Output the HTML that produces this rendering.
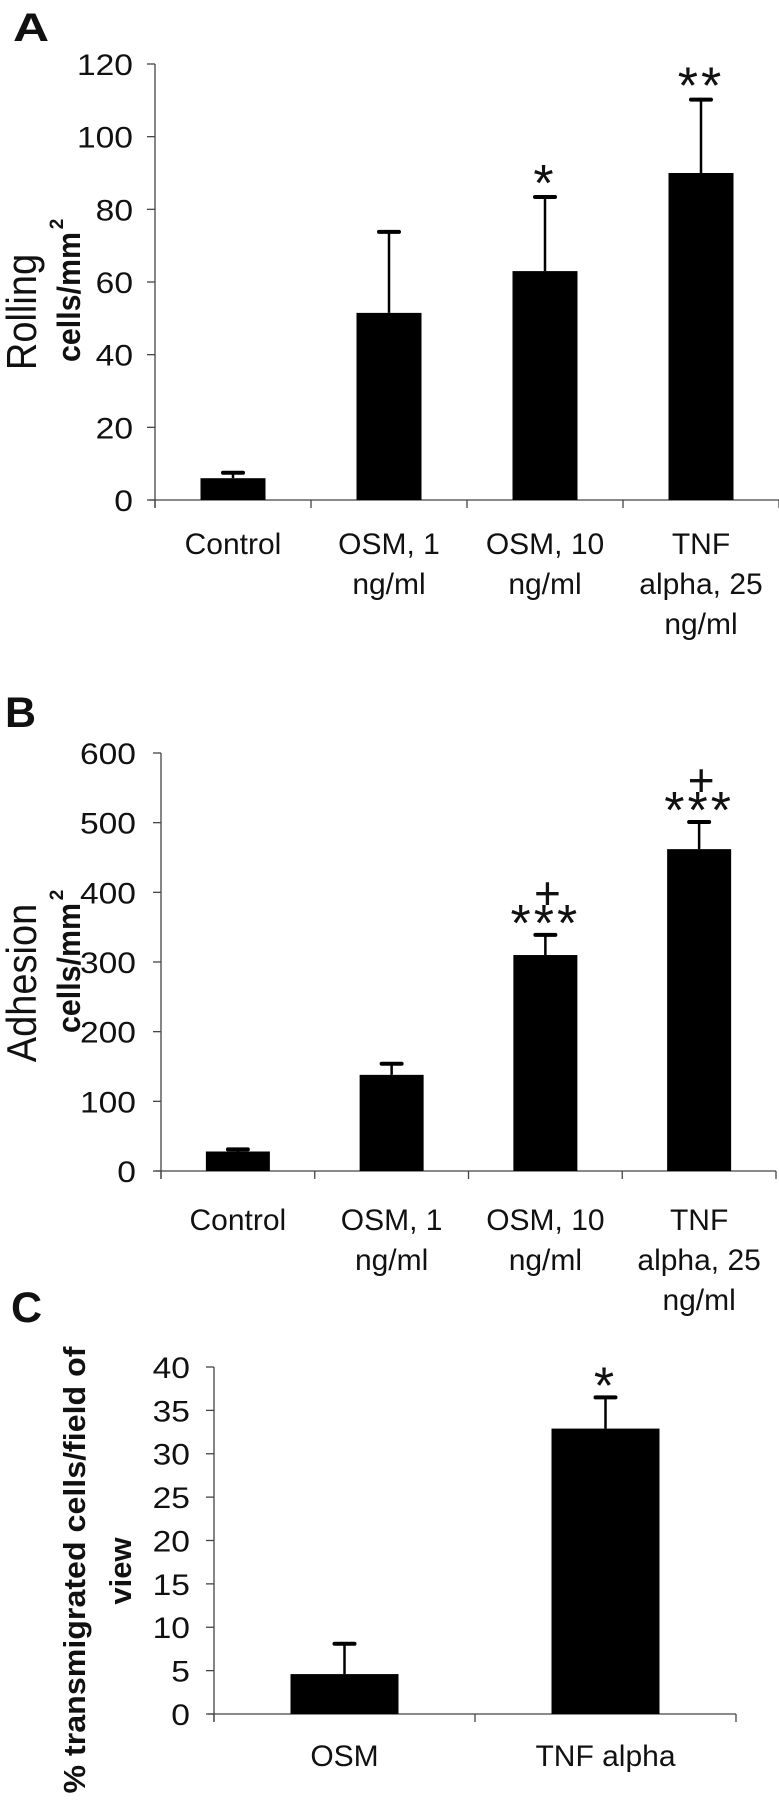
<!DOCTYPE html>
<html>
<head>
<meta charset="utf-8">
<style>
  html,body{margin:0;padding:0;background:#fff;}
  svg{display:block;}
  text{font-family:"Liberation Sans",Arial,sans-serif;fill:#111;}
</style>
</head>
<body>
<svg id="fig" width="779" height="1800" viewBox="0 0 779 1800" xmlns="http://www.w3.org/2000/svg"></svg>
<script>
// ---- Panel A data ----
const catsA = ["Control|", "OSM, 1|ng/ml", "OSM, 10|ng/ml", "TNF|alpha, 25|ng/ml"];
const valsA = [6, 51.5, 63, 90];
const errA = [7.5, 73.8, 83.4, 110.2];
const ticksA = [0, 20, 40, 60, 80, 100, 120];
const marksA = ["", "", "*", "**"];
// ---- Panel B data ----
const catsB = ["Control|", "OSM, 1|ng/ml", "OSM, 10|ng/ml", "TNF|alpha, 25|ng/ml"];
const valsB = [28, 138, 310, 462];
const errB = [31, 154, 339, 501];
const ticksB = [0, 100, 200, 300, 400, 500, 600];
const marksB = ["", "", "***", "***"];
const plusB = [false, false, true, true];
// ---- Panel C data ----
const catsC = ["OSM", "TNF alpha"];
const valsC = [4.6, 32.9];
const errC = [8.1, 36.5];
const ticksC = [0, 5, 10, 15, 20, 25, 30, 35, 40];
const marksC = ["", "*"];

const svg = document.getElementById('fig');
const NS = "http://www.w3.org/2000/svg";
function mk(tag, attrs, parent) {
  const e = document.createElementNS(NS, tag);
  for (const k in attrs) e.setAttribute(k, attrs[k]);
  (parent || svg).appendChild(e);
  return e;
}

function panel(cfg) {
  const g = mk('g', {});
  
  
  const n = cfg.cats.length;
  const step = (cfg.xEnd - cfg.x0) / n;
  const tmin = cfg.tickVals[0], tmax = cfg.tickVals[cfg.tickVals.length-1];
  const y = v => cfg.yZero - (v - tmin) / (tmax - tmin) * (cfg.yZero - cfg.yTop);
  const xc = i => cfg.x0 + step * (i + 0.5);

  const ya = mk('line', {x1: cfg.x0, y1: y(tmax), x2: cfg.x0, y2: cfg.yZero + 8, stroke: '#444', 'stroke-width': 1.3}, g);
  
  
  cfg.tickVals.forEach(t => {
    const tl = mk('line', {x1: cfg.x0 - 8, y1: y(t), x2: cfg.x0, y2: y(t), stroke: '#444', 'stroke-width': 1.3}, g);
    
    
    const tx = mk('text', {x: cfg.labRight, y: y(t) + 11, 'text-anchor': 'end', 'font-size': 30, transform: 'translate(' + cfg.labRight + ',0) scale(1.12,1) translate(' + (-cfg.labRight) + ',0)'}, g);
    tx.textContent = t;
    
    
  });
  const xa = mk('line', {x1: cfg.x0 - 6, y1: cfg.yZero, x2: cfg.xEnd, y2: cfg.yZero, stroke: '#444', 'stroke-width': 1.3}, g);
  
  
  for (let i = 0; i <= n; i++) {
    const xt = mk('line', {x1: cfg.x0 + step * i, y1: cfg.yZero, x2: cfg.x0 + step * i, y2: cfg.yZero + 8, stroke: '#444', 'stroke-width': 1.3}, g);
    
    
  }
  cfg.vals.forEach((v, i) => {
    const cx = xc(i);
    const bar = mk('rect', {x: cx - cfg.barW / 2, y: y(v), width: cfg.barW, height: cfg.yZero - y(v), fill: '#000'}, g);
    
    
    const stem = mk('line', {x1: cx, y1: y(v), x2: cx, y2: y(cfg.errs[i]), stroke: '#000', 'stroke-width': 2.5}, g);
    
    
    const cap = mk('line', {x1: cx - 10, y1: y(cfg.errs[i]), x2: cx + 10, y2: y(cfg.errs[i]), stroke: '#000', 'stroke-width': 4, 'stroke-linecap': 'round'}, g);
    
    
    if (cfg.marks[i]) {
      const m = mk('text', {x: cx, y: y(cfg.errs[i]) + 36 - cfg.markGap, 'text-anchor': 'middle', 'font-size': 52, 'letter-spacing': 3}, g);
      m.textContent = cfg.marks[i];
      
      
    }
    if (cfg.plus && cfg.plus[i]) {
      const p = mk('text', {x: cx + 2, y: y(cfg.errs[i]) + 36 - cfg.markGap - 32, 'text-anchor': 'middle', 'font-size': 46, 'font-weight': 'normal'}, g);
      p.textContent = '+';
      
      
    }
    const lines = cfg.cats[i].split('|').filter(s => s.length);
    lines.forEach((ln, k) => {
      const t = mk('text', {x: cx, y: cfg.labBase + k * 40, 'text-anchor': 'middle', 'font-size': 30}, g);
      t.textContent = ln;
      
      
    });
  });
  return g;
}

panel({name: 'panel-a', cats: catsA, vals: valsA, errs: errA, tickVals: ticksA, marks: marksA,
  x0: 155, xEnd: 779, yZero: 500, yTop: 64, barW: 65, labRight: 133, labBase: 554, markGap: 32});
panel({name: 'panel-b', cats: catsB, vals: valsB, errs: errB, tickVals: ticksB, marks: marksB, plus: plusB,
  x0: 161, xEnd: 776, yZero: 1171, yTop: 753, barW: 64, labRight: 136, labBase: 1230, markGap: 30});
panel({name: 'panel-c', cats: catsC, vals: valsC, errs: errC, tickVals: ticksC, marks: marksC,
  x0: 214, xEnd: 736, yZero: 1714, yTop: 1367, barW: 108, labRight: 190, labBase: 1766, markGap: 30});

function txt(s, attrs, name) {
  const t = mk('text', attrs);
  t.textContent = s;
  
  
  return t;
}
txt('A', {x: 13, y: 41, 'font-size': 40, 'font-weight': 'bold', transform: 'translate(13,0) scale(1.25,1) translate(-13,0)'}, 'panel-a-letter');
txt('B', {x: 5, y: 727, 'font-size': 43, 'font-weight': 'bold'}, 'panel-b-letter');
txt('C', {x: 11, y: 1322, 'font-size': 43, 'font-weight': 'bold'}, 'panel-c-letter');

txt('Rolling', {x: 0, y: 0, 'font-size': 38, 'text-anchor': 'middle', transform: 'translate(36,312) rotate(-90) scale(1,1.1)'}, 'y-axis-title-a');
txt('cells/mm', {x: 0, y: 0, 'font-size': 32, 'font-weight': 'bold', 'text-anchor': 'middle', textLength: 130, lengthAdjust: 'spacingAndGlyphs', transform: 'translate(80,297) rotate(-90)'}, 'y-axis-unit-a');
txt('2', {x: 0, y: 0, 'font-size': 19, 'font-weight': 'bold', 'text-anchor': 'middle', transform: 'translate(63,224) rotate(-90)'}, 'y-axis-unit-a-superscript');

txt('Adhesion', {x: 0, y: 0, 'font-size': 38, 'text-anchor': 'middle', transform: 'translate(36,983) rotate(-90) scale(1,1.1)'}, 'y-axis-title-b');
txt('cells/mm', {x: 0, y: 0, 'font-size': 32, 'font-weight': 'bold', 'text-anchor': 'middle', textLength: 130, lengthAdjust: 'spacingAndGlyphs', transform: 'translate(80,968) rotate(-90)'}, 'y-axis-unit-b');
txt('2', {x: 0, y: 0, 'font-size': 19, 'font-weight': 'bold', 'text-anchor': 'middle', transform: 'translate(63,895) rotate(-90)'}, 'y-axis-unit-b-superscript');

txt('% transmigrated cells/field of', {x: 0, y: 0, 'font-size': 31, 'font-weight': 'bold', 'text-anchor': 'middle', textLength: 447, lengthAdjust: 'spacingAndGlyphs', transform: 'translate(85,1570) rotate(-90)'}, 'y-axis-title-c');
txt('view', {x: 0, y: 0, 'font-size': 31, 'font-weight': 'bold', 'text-anchor': 'middle', transform: 'translate(131,1571) rotate(-90)'}, 'y-axis-title-c-line2');
</script>
</body>
</html>
